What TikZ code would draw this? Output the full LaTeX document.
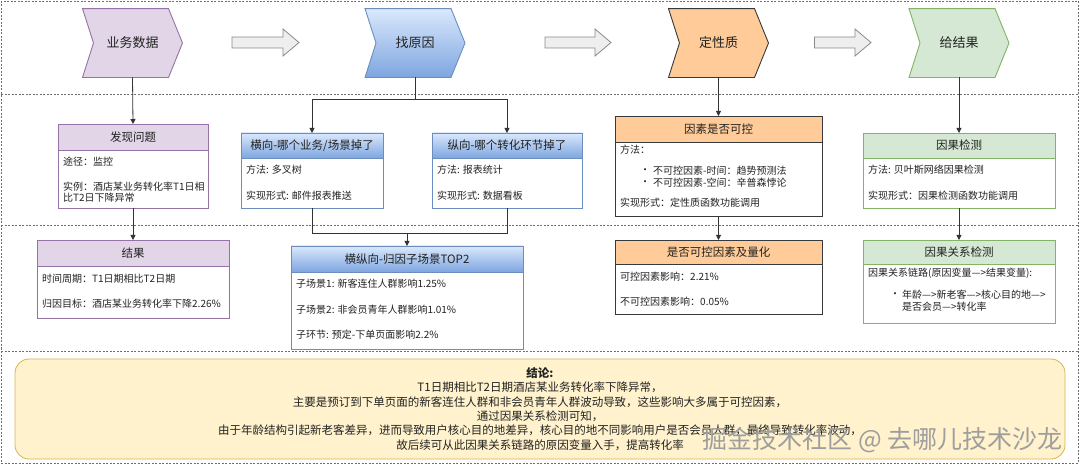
\documentclass[tikz,border=0pt]{standalone}
\usepackage{fontspec}
\setmainfont{Noto Sans CJK SC}
\usetikzlibrary{arrows.meta}
\definecolor{txt}{HTML}{222222}
\definecolor{lnc}{HTML}{333333}
\definecolor{purF}{HTML}{E1D5E7}
\definecolor{purD}{HTML}{9673A6}
\definecolor{bluT}{HTML}{DAE8FC}
\definecolor{bluB}{HTML}{7EA6E0}
\definecolor{bluD}{HTML}{6C8EBF}
\definecolor{oraF}{HTML}{FFCC99}
\definecolor{oraD}{HTML}{36393D}
\definecolor{grnF}{HTML}{D5E8D4}
\definecolor{grnD}{HTML}{82B366}
\definecolor{yelF}{HTML}{FFF2CC}
\definecolor{yelD}{HTML}{D6B656}
\definecolor{arrF}{HTML}{EEEEEE}
\definecolor{arrD}{HTML}{8A8A8A}
\definecolor{frm}{HTML}{6E6E6E}
\begin{document}
\begin{tikzpicture}[x=1pt,y=-1pt,
  gframe/.style={draw=frm,line width=0.6pt,dash pattern=on 2pt off 1.5pt},
  chevtext/.style={inner sep=0pt,outer sep=0pt,minimum width=100pt,minimum height=69pt,font=\fontsize{13}{15}\selectfont,text=txt},
  bodybox/.style={draw=#1,fill=white,line width=0.8pt,inner sep=0pt,outer sep=0pt},
  headbox/.style={draw=#1,line width=0.8pt,inner sep=0pt,outer sep=0pt,font=\fontsize{11.5}{13}\selectfont,text=txt},
  bt/.style={anchor=west,inner sep=0pt,font=\fontsize{10}{11}\selectfont,text=txt},
  ct/.style={inner sep=0pt,font=\fontsize{11.5}{13}\selectfont,text=txt},
  conn/.style={draw=lnc,line width=0.8pt,-{Triangle[length=5pt,width=5pt]}},
  plainconn/.style={draw=lnc,line width=0.8pt},
  blockarr/.style={draw=arrD,fill=arrF,line width=0.8pt,line join=miter}
]
\useasboundingbox (0,0) rectangle (1080,465);

% dashed frames
\draw[gframe] (1,1) rectangle (1078,463);
\draw[gframe] (1,94) -- (1078,94);
\draw[gframe] (1,225) -- (1078,225);
\draw[gframe] (1,351) -- (1078,351);

% chevrons
\draw[draw=purD,fill=purF,line width=0.9pt] (82.5,8.6) -- (168.5,8.6) -- (182.5,43) -- (168.5,77.5) -- (82.5,77.5) -- (93.5,43) -- cycle;
\draw[draw=bluD,top color=bluT,bottom color=bluB,line width=0.9pt] (365,8.6) -- (451,8.6) -- (465,43) -- (451,77.5) -- (365,77.5) -- (376,43) -- cycle;
\draw[draw=oraD,fill=oraF,line width=0.9pt] (668.5,8.6) -- (754.5,8.6) -- (768.5,43) -- (754.5,77.5) -- (668.5,77.5) -- (679.5,43) -- cycle;
\draw[draw=grnD,fill=grnF,line width=0.9pt] (909,8.6) -- (995,8.6) -- (1009,43) -- (995,77.5) -- (909,77.5) -- (920,43) -- cycle;
\node[chevtext] (c1) at (132.5,43) {业务数据};
\node[chevtext] (c2) at (415,43) {找原因};
\node[chevtext] (c3) at (718.5,43) {定性质};
\node[chevtext] (c4) at (959,43) {给结果};

% block arrows
\draw[blockarr] (232,37) -- (283,37) -- (283,29) -- (299,42.5) -- (283,56) -- (283,48) -- (232,48) -- cycle;
\draw[blockarr] (545,37) -- (595,37) -- (595,29) -- (611,42.5) -- (595,56) -- (595,48) -- (545,48) -- cycle;
\draw[blockarr] (814.5,37) -- (855,37) -- (855,29) -- (871,42.5) -- (855,56) -- (855,48) -- (814.5,48) -- cycle;

% ---- row 2 boxes
\node[bodybox=purD,minimum width=150pt,minimum height=84pt] (b1) at (133,166) {};
\node[headbox=purD,fill=purF,minimum width=150pt,minimum height=26pt] (b1h) at (133,137) {发现问题};
\node[bt] (b1t1) at (63,162) {途径：监控};
\node[bt] (b1t2) at (63,187) {实例：酒店某业务转化率T1日相};
\node[bt] (b1t3) at (63,198) {比T2日下降异常};

\node[bodybox=bluD,minimum width=142pt,minimum height=75pt] (b2) at (312,170.5) {};
\node[headbox=bluD,top color=bluT,bottom color=bluB,minimum width=142pt,minimum height=25pt] (b2h) at (312,145.5) {横向-哪个业务/场景掉了};
\node[bt] (b2t1) at (246,170) {方法: 多叉树};
\node[bt] (b2t2) at (246,196) {实现形式: 邮件报表推送};

\node[bodybox=bluD,minimum width=150pt,minimum height=75pt] (b3) at (507,170.5) {};
\node[headbox=bluD,top color=bluT,bottom color=bluB,minimum width=150pt,minimum height=25pt] (b3h) at (507,145.5) {纵向-哪个转化环节掉了};
\node[bt] (b3t1) at (437,170) {方法: 报表统计};
\node[bt] (b3t2) at (437,196) {实现形式: 数据看板};

\node[bodybox=oraD,minimum width=207pt,minimum height=100pt] (b4) at (718.5,166) {};
\node[headbox=oraD,fill=oraF,minimum width=207pt,minimum height=26pt] (b4h) at (718.5,129) {因素是否可控};
\node[bt] (b4t1) at (620,150) {方法：};
\node[bt] (b4d1) at (640,171) {•};
\node[bt] (b4t2) at (653,171) {不可控因素-时间：趋势预测法};
\node[bt] (b4d2) at (640,183) {•};
\node[bt] (b4t3) at (653,183) {不可控因素-空间：辛普森悖论};
\node[bt] (b4t4) at (620,203) {实现形式：定性质函数功能调用};

\node[bodybox=grnD,minimum width=192pt,minimum height=75pt] (b5) at (959,170.5) {};
\node[headbox=grnD,fill=grnF,minimum width=192pt,minimum height=25pt] (b5h) at (959,145.5) {因果检测};
\node[bt] (b5t1) at (868,170) {方法: 贝叶斯网络因果检测};
\node[bt] (b5t2) at (868,196) {实现形式：因果检测函数功能调用};

% ---- row 3 boxes
\node[bodybox=purD,minimum width=192pt,minimum height=78pt] (r1) at (133,279) {};
\node[headbox=purD,fill=purF,minimum width=192pt,minimum height=26pt] (r1h) at (133,253) {结果};
\node[bt] (r1t1) at (42,279) {时间周期：T1日期相比T2日期};
\node[bt] (r1t2) at (42,304) {归因目标：酒店某业务转化率下降2.26\%};

\node[bodybox=bluD,minimum width=232pt,minimum height=103pt] (r2) at (407,297.5) {};
\node[headbox=bluD,top color=bluT,bottom color=bluB,minimum width=232pt,minimum height=26pt] (r2h) at (407,259) {横纵向-归因子场景TOP2};
\node[bt] (r2t1) at (296,284) {子场景1: 新客连住人群影响1.25\%};
\node[bt] (r2t2) at (296,310) {子场景2: 非会员青年人群影响1.01\%};
\node[bt] (r2t3) at (296,335) {子环节: 预定-下单页面影响2.2\%};

\node[bodybox=oraD,minimum width=207pt,minimum height=74pt] (r3) at (718.5,277) {};
\node[headbox=oraD,fill=oraF,minimum width=207pt,minimum height=24pt] (r3h) at (718.5,252) {是否可控因素及量化};
\node[bt] (r3t1) at (620,277) {可控因素影响：2.21\%};
\node[bt] (r3t2) at (620,302) {不可控因素影响：0.05\%};

\node[bodybox=grnD,minimum width=192pt,minimum height=83pt] (r4) at (959,281.5) {};
\node[headbox=grnD,fill=grnF,minimum width=192pt,minimum height=24pt] (r4h) at (959,252) {因果关系检测};
\node[bt] (r4t1) at (868,273) {因果关系链路(原因变量—>结果变量):};
\node[bt] (r4d1) at (890,295) {•};
\node[bt] (r4t2) at (902,295) {年龄—>新老客—>核心目的地—>};
\node[bt] (r4t3) at (902,307) {是否会员—>转化率};

% ---- connectors
\coordinate (j1) at (415,99);
\coordinate (j2) at (407,233);
\draw[conn] (c1.south) -- (b1h.north);
\draw[conn] (b1.south) -- (r1h.north);
\draw[plainconn] (c2.south) -- (j1);
\draw[conn] (j1) -| (b2h.north);
\draw[conn] (j1) -| (b3h.north);
\draw[plainconn] (b2.south) |- (j2);
\draw[plainconn] (b3.south) |- (j2);
\draw[conn] (j2) -- (r2h.north);
\draw[conn] (c3.south) -- (b4h.north);
\draw[conn] (b4.south) -- (r3h.north);
\draw[conn] (c4.south) -- (b5h.north);
\draw[conn] (b5.south) -- (r4h.north);

% ---- conclusion
\node[draw=yelD,fill=yelF,line width=0.8pt,rounded corners=14pt,minimum width=1050pt,minimum height=100pt,inner sep=0pt] (concl) at (540,409) {};
\node[ct,font=\fontsize{11.5}{13}\selectfont\bfseries] (k0) at (540,373) {结论:};
\node[ct] (k1) at (540,387.4) {T1日期相比T2日期酒店某业务转化率下降异常，};
\node[ct] (k2) at (540,401.8) {主要是预订到下单页面的新客连住人群和非会员青年人群波动导致，这些影响大多属于可控因素，};
\node[ct] (k3) at (540,416.2) {通过因果关系检测可知，};
\node[ct] (k4) at (540,430.6) {由于年龄结构引起新老客差异，进而导致用户核心目的地差异，核心目的地不同影响用户是否会员人群，最终导致转化率波动，};
\node[ct] (k5) at (540,445) {故后续可从此因果关系链路的原因变量入手，提高转化率};

% watermark
\node[inner sep=0pt,text=black!38,font=\fontsize{25}{27}\selectfont] (wm) at (882.5,440) {掘金技术社区 @ 去哪儿技术沙龙};
\end{tikzpicture}
\end{document}
